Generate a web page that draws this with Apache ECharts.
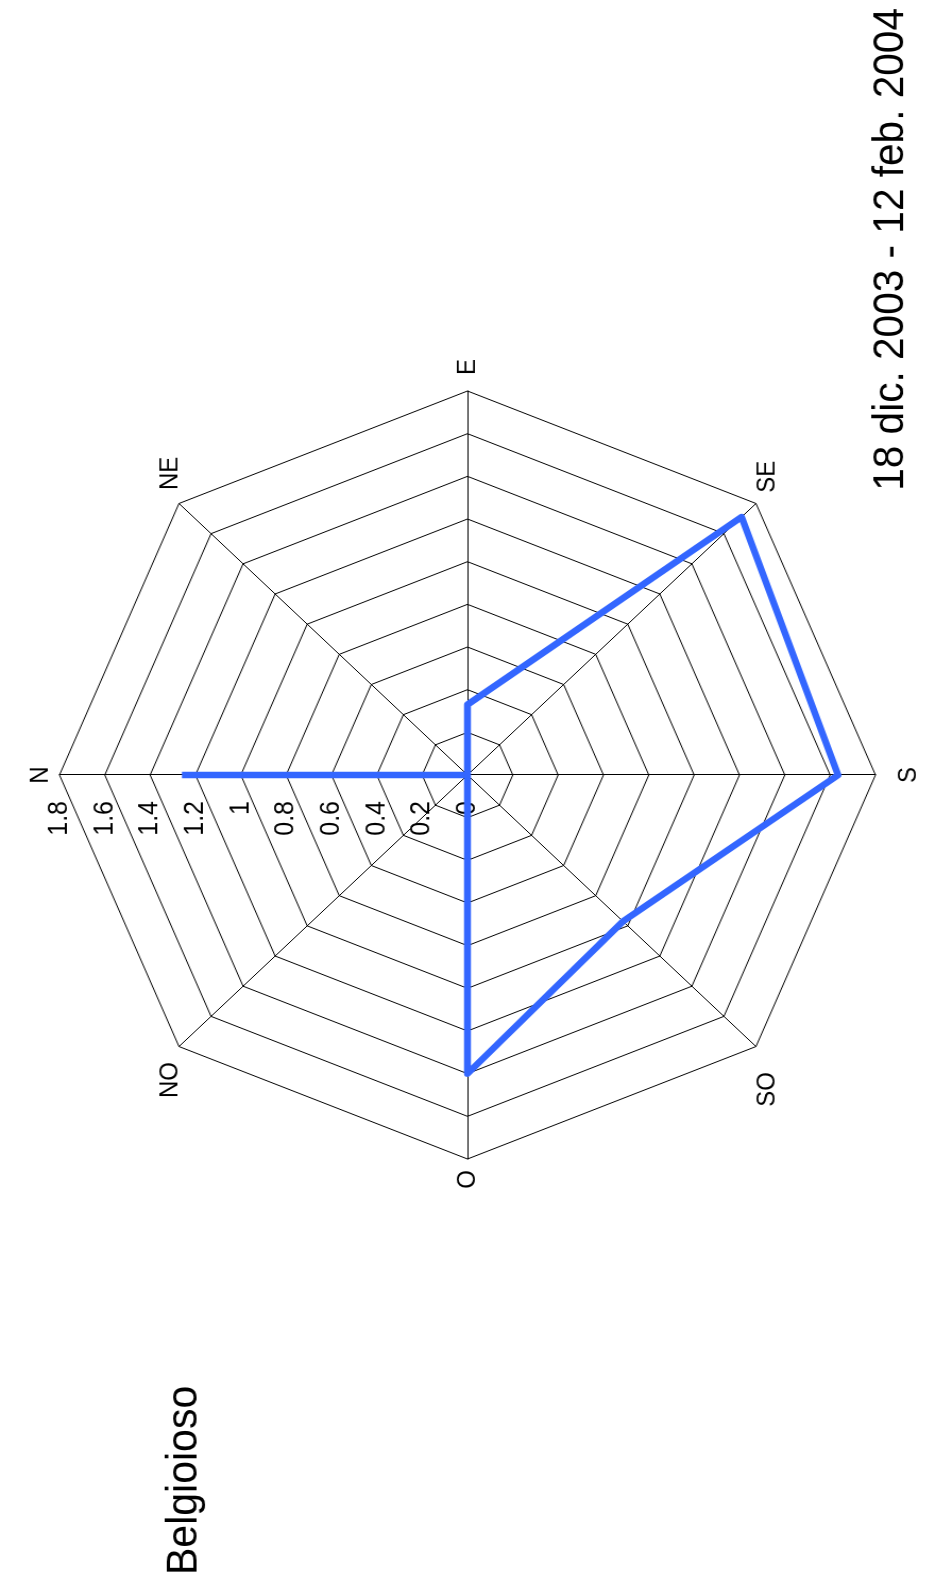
<!DOCTYPE html>
<html>
<head>
<meta charset="utf-8">
<script src="https://cdn.jsdelivr.net/npm/echarts@6/dist/echarts.min.js"></script>
<style>
html, body { margin: 0; padding: 0; background: #fff; overflow: hidden; }
#wrap { position: absolute; left: 0; top: 0; width: 925px; height: 1584px; overflow: hidden; }
/* chart drawn landscape, then turned a quarter turn to the left like the reference */
#main { position: absolute; left: 0; top: 0; width: 1584px; height: 871px;
        transform-origin: 0 0; transform: translateY(1584px) rotate(-90deg) scale(1, 1.0625); }
</style>
</head>
<body>
<div id="wrap"><div id="main"></div></div>
<script>
// wind directions, counter-clockwise from N (radar runs counter-clockwise)
var directions = ['N', 'NO', 'O', 'SO', 'S', 'SE', 'E', 'NE'];
var values = [1.26, 0, 1.40, 0.97, 1.635, 1.71, 0.33, 0];
var axisMax = 1.8;
var titleText = '18 dic. 2003 - 12 feb. 2004';
var siteName = 'Belgioioso';

var FONT = '"Liberation Sans", Arial, Helvetica, sans-serif';

// where each direction name sits
var nameLayout = {
    N:  { gap: 18,   align: 'center', pad: [0, 0, 0, 0] },
    NO: { gap: 12,   align: 'right',  pad: [0, 7, 0, 0] },
    O:  { gap: 20.5, align: 'center', pad: [0, 0, 0, 0] },
    SO: { gap: 15,   align: 'right',  pad: [0, 15, 0, 0] },
    S:  { gap: 31.5, align: 'center', pad: [0, 0, 0, 0] },
    SE: { gap: 15,   align: 'left',   pad: [0, 0, 0, 0] },
    E:  { gap: 24,   align: 'center', pad: [0, 0, 0, 0] },
    NE: { gap: 12,   align: 'left',   pad: [0, 0, 0, 5] }
};

var indicators = directions.map(function (d, i) {
    var l = nameLayout[d];
    return {
        name: d,
        min: 0,
        max: axisMax,
        nameGap: l.gap,
        nameTextStyle: { align: l.align, verticalAlign: 'middle', padding: l.pad },
        axisLabel: i === 0 ? { show: true, margin: 26, fontSize: 25, color: '#000', fontFamily: FONT } : { show: false }
    };
});

var myChart = echarts.init(document.getElementById('main'));

myChart.setOption({
    backgroundColor: '#fff',
    animation: false,
    radar: {
        center: [809, 440],
        radius: 384,
        startAngle: 90,
        shape: 'polygon',
        splitNumber: 9,
        indicator: indicators,
        axisName: { color: '#000', fontSize: 24, fontFamily: FONT },
        axisLine: { lineStyle: { color: '#000', width: 1 } },
        splitLine: { lineStyle: { color: '#000', width: 1 } },
        splitArea: { show: false },
        axisTick: { show: false },
        axisLabel: { show: false }
    },
    series: [{
        type: 'radar',
        symbol: 'none',
        silent: true,
        data: [{ value: values }],
        lineStyle: { color: '#3366ff', width: 6.5, join: 'round' },
        itemStyle: { color: '#3366ff' }
    }],
    graphic: [
        {
            type: 'text', x: 1576, y: 839,
            style: { text: titleText, font: '40.6px ' + FONT, fill: '#000', align: 'right', verticalAlign: 'middle' }
        },
        {
            type: 'text', x: 9, y: 174,
            style: { text: siteName, font: '41px ' + FONT, fill: '#000', align: 'left', verticalAlign: 'middle' }
        }
    ]
});
</script>
</body>
</html>
